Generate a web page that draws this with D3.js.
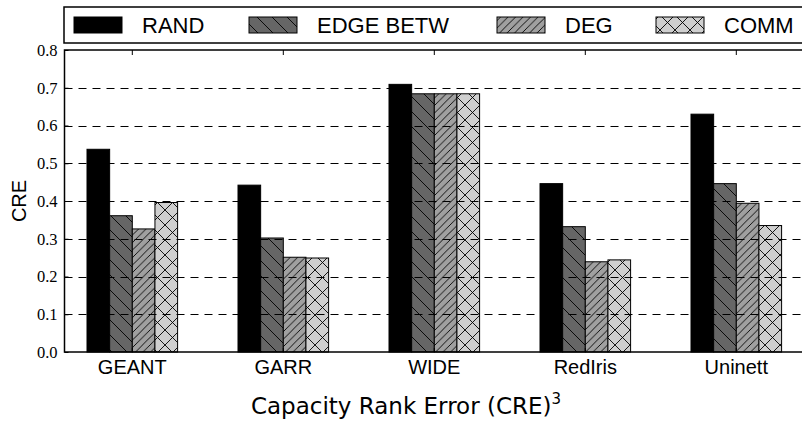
<!DOCTYPE html>
<html>
<head>
<meta charset="utf-8">
<script src="https://cdn.jsdelivr.net/npm/d3@7"></script>
<style>
  body { margin: 0; background: #fff; }
  svg { display: block; }
</style>
</head>
<body>
<div id="chart"></div>
<script>
// data
const categories = ["GEANT", "GARR", "WIDE", "RedIris", "Uninett"];
const seriesNames = ["RAND", "EDGE BETW", "DEG", "COMM"];
const rand     = [0.537, 0.442, 0.709, 0.446, 0.630];
const edgeBetw = [0.361, 0.302, 0.684, 0.332, 0.446];
const deg      = [0.326, 0.251, 0.684, 0.239, 0.394];
const comm     = [0.396, 0.249, 0.684, 0.244, 0.335];
const yTicks   = [0.0, 0.1, 0.2, 0.3, 0.4, 0.5, 0.6, 0.7, 0.8];

const seriesValues = [rand, edgeBetw, deg, comm];
const fills = ["#000", "url(#hatch-back)", "url(#hatch-fwd)", "url(#hatch-x)"];

const width = 802, height = 421;
const plot = { left: 64.5, right: 804.5, top: 50, bottom: 352 };

const svg = d3.select("#chart").append("svg")
  .attr("width", width)
  .attr("height", height);

// hatch patterns
const defs = svg.append("defs");
function hatch(id, bg, s, d) {
  const p = defs.append("pattern")
    .attr("id", id)
    .attr("patternUnits", "userSpaceOnUse")
    .attr("width", s).attr("height", s);
  p.append("rect").attr("width", s).attr("height", s).attr("fill", bg);
  p.append("path").attr("d", d).attr("stroke", "#000").attr("stroke-width", 0.9).attr("fill", "none");
}
const back = s => `M0,0L${s},${s}M${-s/4},${3*s/4}L${s/4},${5*s/4}M${3*s/4},${-s/4}L${5*s/4},${s/4}`;
const fwd = s => `M0,${s}L${s},0M${-s/4},${s/4}L${s/4},${-s/4}M${3*s/4},${5*s/4}L${5*s/4},${3*s/4}`;
hatch("hatch-back", "#666", 15, back(15));
hatch("hatch-fwd", "#a0a0a0", 7.5, fwd(7.5));
hatch("hatch-x", "#cfcfcf", 15, back(15) + fwd(15));

// scales
const x = d3.scaleBand()
  .domain(categories)
  .range([56.8, 811.8])
  .paddingInner(0.4)
  .paddingOuter(0.2);
const xs = d3.scaleBand()
  .domain(seriesNames)
  .range([0, x.bandwidth()]);
const y = d3.scaleLinear()
  .domain([0, 0.8])
  .range([plot.bottom, plot.top]);

// bars
seriesNames.forEach((name, si) => {
  svg.append("g").selectAll("rect")
    .data(categories.map((c, i) => ({ c, v: seriesValues[si][i] })))
    .join("rect")
    .attr("x", d => x(d.c) + xs(name))
    .attr("y", d => y(d.v))
    .attr("width", xs.bandwidth())
    .attr("height", d => y(0) - y(d.v))
    .attr("fill", fills[si])
    .attr("stroke", "#000")
    .attr("stroke-width", 1);
});

// dashed grid on top of the bars
svg.append("g").selectAll("line")
  .data(yTicks.filter(t => t > 0 && t < 0.8))
  .join("line")
  .attr("x1", plot.left).attr("x2", plot.right)
  .attr("y1", d => Math.round(y(d)) + 0.5).attr("y2", d => Math.round(y(d)) + 0.5)
  .attr("stroke", "#000")
  .attr("stroke-width", 1)
  .attr("stroke-dasharray", "8,6");

// y axis (ticks inward)
const yAxis = svg.append("g")
  .attr("transform", `translate(${plot.left},0)`)
  .call(d3.axisRight(y).tickValues(yTicks).tickSize(4).tickFormat(d3.format(".1f")));
yAxis.select(".domain").remove();
yAxis.selectAll("text")
  .attr("x", -7)
  .attr("text-anchor", "end")
  .attr("font-family", "Liberation Serif")
  .attr("font-size", 16.5)
  .attr("fill", "#000");
yAxis.selectAll("line").attr("stroke", "#000");

// x ticks at top and bottom, inward
const centers = categories.map(c => x(c) + x.bandwidth() / 2);
svg.append("g").selectAll("line")
  .data(centers)
  .join("line")
  .attr("x1", d => d).attr("x2", d => d)
  .attr("y1", plot.top).attr("y2", plot.top + 5)
  .attr("stroke", "#000");

const xAxis = svg.append("g")
  .attr("transform", `translate(0,${plot.bottom})`)
  .call(d3.axisTop(x).tickSize(4));
xAxis.select(".domain").remove();
xAxis.selectAll("line").attr("stroke", "#000");
xAxis.selectAll("text")
  .attr("y", 22)
  .attr("dy", 0)
  .attr("font-family", "Liberation Sans")
  .attr("font-size", 20)
  .attr("fill", "#000");

// frame
svg.append("rect")
  .attr("x", plot.left).attr("y", plot.top)
  .attr("width", plot.right - plot.left)
  .attr("height", plot.bottom - plot.top)
  .attr("fill", "none")
  .attr("stroke", "#000")
  .attr("stroke-width", 1.5);

// y label
svg.append("text")
  .attr("transform", `translate(26,${(plot.top + plot.bottom) / 2}) rotate(-90)`)
  .attr("text-anchor", "middle")
  .attr("font-family", "Liberation Sans")
  .attr("font-size", 20)
  .text("CRE");

// x title
const title = svg.append("text")
  .attr("x", 406)
  .attr("y", 414)
  .attr("text-anchor", "middle")
  .attr("font-family", "DejaVu Sans")
  .attr("font-size", 23);
title.append("tspan").text("Capacity Rank Error (CRE)");
title.append("tspan").attr("font-size", 15).attr("dy", -10).text("3");

// legend
const legendX = [74, 249, 497, 656];
const legend = svg.append("g");
legend.append("rect")
  .attr("x", 64).attr("y", 7)
  .attr("width", 745).attr("height", 36)
  .attr("fill", "#fff")
  .attr("stroke", "#000")
  .attr("stroke-width", 1.5);
seriesNames.forEach((name, i) => {
  legend.append("rect")
    .attr("x", legendX[i]).attr("y", 17)
    .attr("width", 48).attr("height", 16)
    .attr("fill", fills[i])
    .attr("stroke", "#000")
    .attr("stroke-width", 1);
  legend.append("text")
    .attr("x", legendX[i] + 68).attr("y", 33)
    .attr("font-family", "Liberation Sans")
    .attr("font-size", 22)
    .text(name);
});
</script>
</body>
</html>
